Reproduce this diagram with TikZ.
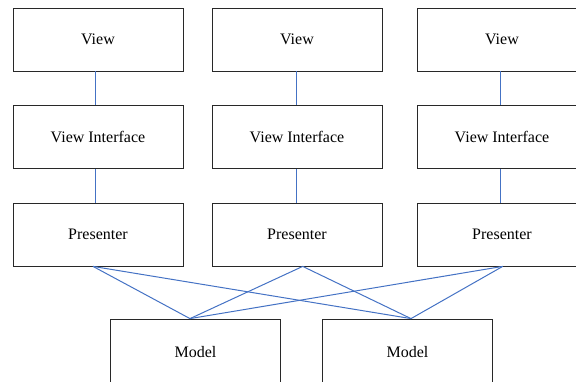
\documentclass[tikz,border=0pt]{standalone}
\usepackage{fontspec}
\setmainfont{Liberation Serif}
\usetikzlibrary{calc}
\definecolor{linkblue}{RGB}{68,114,196}
\definecolor{boxline}{RGB}{40,40,40}
\begin{document}
\begin{tikzpicture}[x=1pt,y=-1pt,
  box/.style={draw=boxline,line width=0.8pt,fill=white,minimum width=170pt,minimum height=63pt,
    inner sep=0pt,font=\fontsize{16}{19}\selectfont},
  modelbox/.style={box,minimum height=66pt},
  link/.style={draw=linkblue,line width=1pt}]
\useasboundingbox (0,0) rectangle (576,381);
\clip (0,0) rectangle (576,381);

% three columns: view, view interface, presenter
\node[box] (v1) at (98,39.5) {View};
\node[box] (v2) at (297,39.5) {View};
\node[box] (v3) at (502,39.5) {View};
\node[box] (i1) at (98,137) {View Interface};
\node[box] (i2) at (297,137) {View Interface};
\node[box] (i3) at (502,137) {View Interface};
\node[box] (p1) at (98,234.5) {Presenter};
\node[box] (p2) at (297,234.5) {Presenter};
\node[box] (p3) at (502,234.5) {Presenter};
% models
\node[modelbox] (m1) at (195.5,352) {Model};
\node[modelbox] (m2) at (407.5,352) {Model};

% vertical links within each column
\draw[link] ($(v1.south)+(-2.3,0)$) -- ($(i1.north)+(-2.3,0)$);
\draw[link] ($(i1.south)+(-2.3,0)$) -- ($(p1.north)+(-2.3,0)$);
\draw[link] ($(v2.south)+(-1,0)$) -- ($(i2.north)+(-1,0)$);
\draw[link] ($(i2.south)+(-1,0)$) -- ($(p2.north)+(-1,0)$);
\draw[link] ($(v3.south)+(-2,0)$) -- ($(i3.north)+(-2,0)$);
\draw[link] ($(i3.south)+(-2,0)$) -- ($(p3.north)+(-2,0)$);

% every presenter talks to every model
\coordinate (p1b) at ($(p1.south)+(-5,0)$);
\coordinate (p2b) at ($(p2.south)+(5.7,0)$);
\coordinate (p3b) at ($(p3.south)+(0.7,0)$);
\coordinate (m1t) at ($(m1.north)+(-5.5,0)$);
\coordinate (m2t) at ($(m2.north)+(3.5,0)$);
\foreach \p in {p1b,p2b,p3b}{
  \draw[link] (\p) -- (m1t);
  \draw[link] (\p) -- (m2t);
}
\end{tikzpicture}
\end{document}
